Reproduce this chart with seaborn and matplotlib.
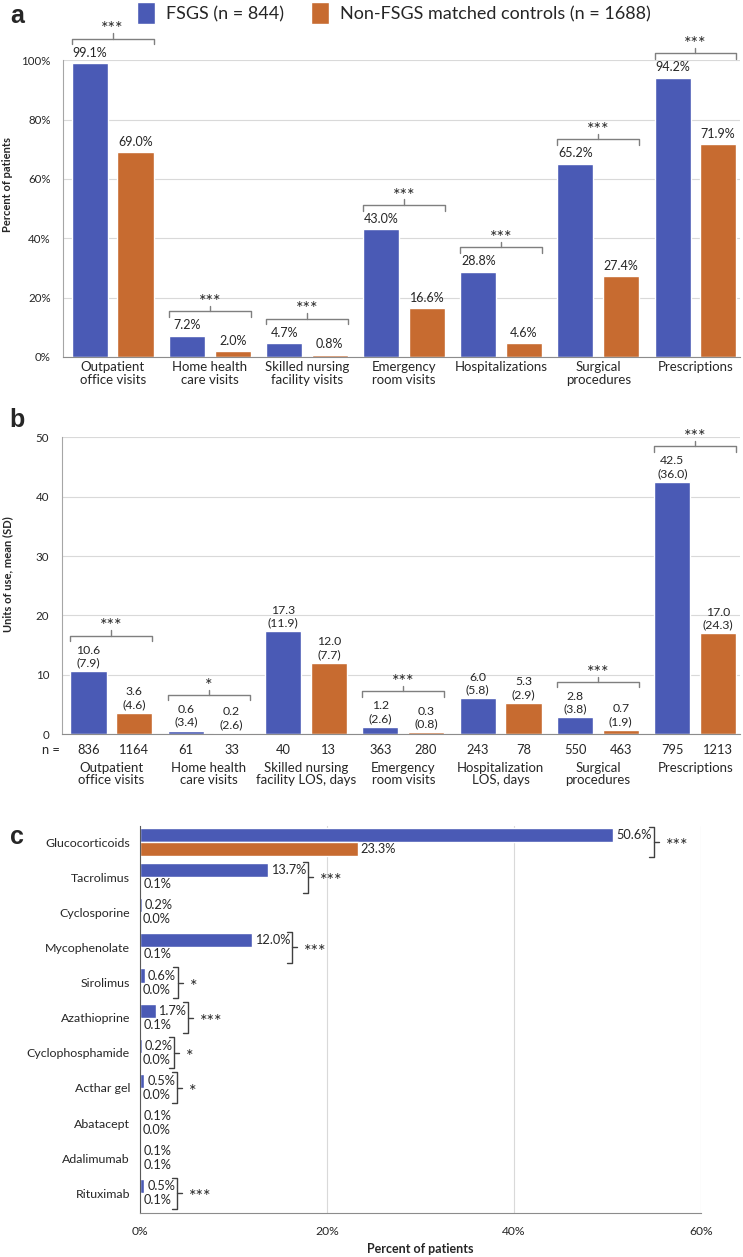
import matplotlib
matplotlib.use('Agg')
import pandas as pd
import matplotlib.pyplot as plt
import seaborn as sns

BLUE = '#4a5ab5'
ORANGE = '#c76b30'
GRID = '#d9d9d9'
BRK = '#7f7f7f'

groups = ['FSGS (n = 844)', 'Non-FSGS matched controls (n = 1688)']

# panel a - percent of patients with any use
cats_a = ['Outpatient\noffice visits', 'Home health\ncare visits', 'Skilled nursing\nfacility visits',
          'Emergency\nroom visits', 'Hospitalizations', 'Surgical\nprocedures', 'Prescriptions']
fsgs_a = [99.1, 7.2, 4.7, 43.0, 28.8, 65.2, 94.2]
ctrl_a = [69.0, 2.0, 0.8, 16.6, 4.6, 27.4, 71.9]
sig_a = ['***', '***', '***', '***', '***', '***', '***']

# panel b - units of use among users
cats_b = ['Outpatient\noffice visits', 'Home health\ncare visits', 'Skilled nursing\nfacility LOS, days',
          'Emergency\nroom visits', 'Hospitalization\nLOS, days', 'Surgical\nprocedures', 'Prescriptions']
fsgs_b = [10.6, 0.6, 17.3, 1.2, 6.0, 2.8, 42.5]
fsgs_b_sd = [7.9, 3.4, 11.9, 2.6, 5.8, 3.8, 36.0]
ctrl_b = [3.6, 0.2, 12.0, 0.3, 5.3, 0.7, 17.0]
ctrl_b_sd = [4.6, 2.6, 7.7, 0.8, 2.9, 1.9, 24.3]
n_fsgs_b = [836, 61, 40, 363, 243, 550, 795]
n_ctrl_b = [1164, 33, 13, 280, 78, 463, 1213]
sig_b = ['***', '*', '', '***', '', '***', '***']

# panel c - immunosuppressant use
drugs = ['Glucocorticoids', 'Tacrolimus', 'Cyclosporine', 'Mycophenolate', 'Sirolimus', 'Azathioprine',
         'Cyclophosphamide', 'Acthar gel', 'Abatacept', 'Adalimumab', 'Rituximab']
fsgs_c = [50.6, 13.7, 0.2, 12.0, 0.6, 1.7, 0.2, 0.5, 0.1, 0.1, 0.5]
ctrl_c = [23.3, 0.1, 0.0, 0.1, 0.0, 0.1, 0.0, 0.0, 0.0, 0.1, 0.1]
sig_c = ['***', '***', '', '***', '*', '***', '*', '*', '', '', '***']


def long_df(cats, a, b):
    return pd.DataFrame({'cat': list(cats) * 2,
                         'group': [groups[0]] * len(cats) + [groups[1]] * len(cats),
                         'val': list(a) + list(b)})


sns.set_style('white')
plt.rcParams['font.family'] = ['Lato', 'DejaVu Sans']
plt.rcParams['text.color'] = '#262626'
plt.rcParams['xtick.color'] = '#262626'
plt.rcParams['ytick.color'] = '#262626'

fig = plt.figure(figsize=(7.43, 12.57), dpi=100)
ax_a = fig.add_axes([0.085, 0.716, 0.911, 0.236])
ax_b = fig.add_axes([0.083, 0.416, 0.913, 0.236])
ax_c = fig.add_axes([0.188, 0.035, 0.756, 0.308])


def style_v(ax):
    ax.grid(axis='y', color=GRID, lw=0.8)
    ax.set_axisbelow(True)
    for s in ['top', 'right']:
        ax.spines[s].set_visible(False)
    ax.spines['left'].set_color('#a6a6a6')
    ax.spines['bottom'].set_color('#8c8c8c')
    ax.tick_params(axis='y', length=0, labelsize=8.3, pad=9)
    ax.set_xlabel('')


def bracket(ax, x0, x1, y, tick, stars, fs=13):
    ax.plot([x0, x0, x1, x1], [y - tick, y, y, y - tick], color=BRK, lw=1.0, clip_on=False)
    xm = (x0 + x1) / 2
    ax.plot([xm, xm], [y, y + tick], color=BRK, lw=1.0, clip_on=False)
    ax.annotate(stars, xy=(xm, y + tick), xytext=(0, -3), textcoords='offset points',
                ha='center', va='bottom', fontsize=fs, annotation_clip=False)


#%% panel a
sns.barplot(data=long_df(cats_a, fsgs_a, ctrl_a), x='cat', y='val', hue='group',
            palette=[BLUE, ORANGE], saturation=1, width=0.94, gap=0.21,
            errorbar=None, legend=False, ax=ax_a)
style_v(ax_a)
ax_a.set_ylim(0, 100)
ax_a.set_xlim(-0.51, 6.46)
ax_a.set_yticks([0, 20, 40, 60, 80, 100])
ax_a.set_yticklabels([f'{t}%' for t in [0, 20, 40, 60, 80, 100]])
ax_a.tick_params(axis='x', length=0, labelsize=9.5, pad=3)
for t in ax_a.get_xticklabels():
    t.set_linespacing(1.05)
ax_a.set_ylabel('Percent of patients', fontsize=8, fontweight='bold')
ax_a.yaxis.set_label_coords(-0.074, 0.58)
ax_a.bar_label(ax_a.containers[0], labels=[f'{v:.1f}%' for v in fsgs_a], padding=3, fontsize=9)
ax_a.bar_label(ax_a.containers[1], labels=[f'{v:.1f}%' for v in ctrl_a], padding=3, fontsize=9)
for i, s in enumerate(sig_a):
    if s:
        pb = ax_a.containers[0][i]
        po = ax_a.containers[1][i]
        bracket(ax_a, pb.get_x(), po.get_x() + po.get_width(), fsgs_a[i] + 8.2, 1.9, s)

#%% panel b
sns.barplot(data=long_df(cats_b, fsgs_b, ctrl_b), x='cat', y='val', hue='group',
            palette=[BLUE, ORANGE], saturation=1, width=0.94, gap=0.21,
            errorbar=None, legend=False, ax=ax_b)
style_v(ax_b)
ax_b.set_ylim(0, 50)
ax_b.set_xlim(-0.51, 6.46)
ax_b.set_yticks([0, 10, 20, 30, 40, 50])
ax_b.tick_params(axis='x', length=0, labelsize=9.5, pad=20)
for t in ax_b.get_xticklabels():
    t.set_linespacing(1.05)
ax_b.set_ylabel('Units of use, mean (SD)', fontsize=8, fontweight='bold')
ax_b.yaxis.set_label_coords(-0.072, 0.54)
ax_b.bar_label(ax_b.containers[0], labels=[f'{m:.1f}\n({s:.1f})' for m, s in zip(fsgs_b, fsgs_b_sd)],
               padding=2, fontsize=8.8, linespacing=1.2)
ax_b.bar_label(ax_b.containers[1], labels=[f'{m:.1f}\n({s:.1f})' for m, s in zip(ctrl_b, ctrl_b_sd)],
               padding=2, fontsize=8.8, linespacing=1.2)
for cont, ns in zip(ax_b.containers, [n_fsgs_b, n_ctrl_b]):
    for p, n in zip(cont, ns):
        ax_b.annotate(str(n), xy=(p.get_x() + p.get_width() / 2, 0), xycoords=('data', 'axes fraction'),
                      xytext=(0, -11.5), textcoords='offset points', ha='center', va='center', fontsize=9.3)
ax_b.annotate('n =', xy=(0, 0), xycoords='axes fraction', xytext=(-1, -11.5), textcoords='offset points',
              ha='right', va='center', fontsize=9.3)
for i, s in enumerate(sig_b):
    if s:
        pb = ax_b.containers[0][i]
        po = ax_b.containers[1][i]
        bracket(ax_b, pb.get_x(), po.get_x() + po.get_width(), fsgs_b[i] + 6.0, 0.9, s)

#%% panel c
sns.barplot(data=long_df(drugs, fsgs_c, ctrl_c), y='cat', x='val', hue='group', orient='h',
            palette=[BLUE, ORANGE], saturation=1, width=0.8,
            errorbar=None, legend=False, ax=ax_c)
ax_c.grid(axis='x', color=GRID, lw=0.8)
ax_c.set_axisbelow(True)
for s in ['top', 'right']:
    ax_c.spines[s].set_visible(False)
ax_c.spines['left'].set_color('#595959')
ax_c.spines['bottom'].set_color('#8c8c8c')
ax_c.set_xlim(0, 60)
ax_c.set_ylim(10.56, -0.46)
ax_c.set_xticks([0, 20, 40, 60])
ax_c.set_xticklabels(['0%', '20%', '40%', '60%'])
ax_c.tick_params(axis='x', length=0, labelsize=8.7, pad=9)
ax_c.tick_params(axis='y', length=0, labelsize=8.9, pad=7)
ax_c.set_ylabel('')
ax_c.set_xlabel('Percent of patients', fontsize=9, fontweight='bold', labelpad=5)
lab_b = ax_c.bar_label(ax_c.containers[0], labels=[f'{v:.1f}%' for v in fsgs_c], padding=2, fontsize=9.2)
lab_o = ax_c.bar_label(ax_c.containers[1], labels=[f'{v:.1f}%' for v in ctrl_c], padding=2, fontsize=9.2)

fig.canvas.draw()
rend = fig.canvas.get_renderer()
inv = ax_c.transData.inverted()
x0_disp = ax_c.transData.transform((0, 0))[0]
px = inv.transform((x0_disp + 5, 0))[0]
for i, s in enumerate(sig_c):
    if not s:
        continue
    right = max(lab_b[i].get_window_extent(rend).x1, lab_o[i].get_window_extent(rend).x1)
    xb = inv.transform((right + 2, 0))[0]
    pb = ax_c.containers[0][i]
    po = ax_c.containers[1][i]
    y0 = pb.get_y() - 0.04
    y1 = po.get_y() + po.get_height() + 0.04
    ym = (y0 + y1) / 2
    ax_c.plot([xb - px, xb, xb, xb - px], [y0, y0, y1, y1], color='#404040', lw=1.0, clip_on=False)
    ax_c.plot([xb, xb + px], [ym, ym], color='#404040', lw=1.0, clip_on=False)
    ax_c.annotate(s, xy=(xb + px, ym), xytext=(5, -3), textcoords='offset points',
                  ha='left', va='center', fontsize=13, annotation_clip=False)

#%% legend and panel letters
fig.legend(ax_a.containers, groups, loc='center', bbox_to_anchor=(0.53, 0.9895), ncol=2,
           frameon=False, fontsize=13, handlelength=1.0, handleheight=1.45, columnspacing=1.5,
           handletextpad=0.6)
for letter, yp in [('a', 16), ('b', 420), ('c', 837)]:
    fig.text(0.023, 1 - yp / 1257, letter, ha='center', va='center', fontsize=18,
             fontweight='bold', family=['Liberation Sans', 'DejaVu Sans'])

fig.savefig('out.png', dpi=100)
